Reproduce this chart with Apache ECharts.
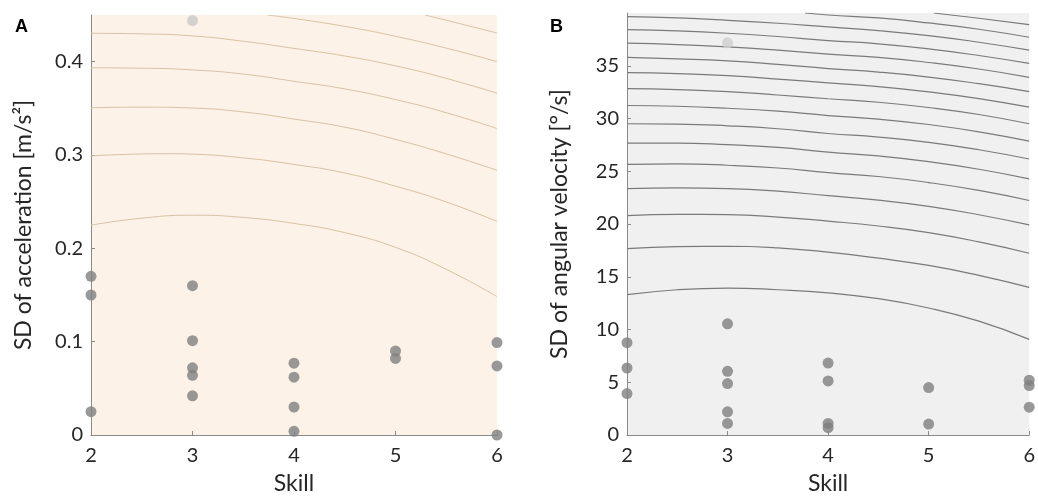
<!DOCTYPE html>
<html>
<head>
<meta charset="utf-8">
<script src="https://cdn.jsdelivr.net/npm/echarts@6/dist/echarts.min.js"></script>
<style>
  html, body { margin: 0; padding: 0; background: #fff; }
</style>
</head>
<body>
<div id="chart" style="width:1038px;height:500px"></div>
<script>
// ticks
const skillTicks = [2, 3, 4, 5, 6]
const accelTicks = [0, 0.1, 0.2, 0.3, 0.4]
const angTicks = [0, 5, 10, 15, 20, 25, 30, 35]

// scatter points [skill, SD]
const accelPoints = [
  [2, 0.170], [2, 0.150], [2, 0.025],
  [3, 0.160], [3, 0.101], [3, 0.072], [3, 0.064], [3, 0.042],
  [4, 0.077], [4, 0.062], [4, 0.030], [4, 0.004],
  [5, 0.090], [5, 0.082],
  [6, 0.099], [6, 0.074], [6, 0.000]
]
const accelOutlier = [[3, 0.444]]

const angPoints = [
  [2, 8.75], [2, 6.35], [2, 3.93],
  [3, 10.54], [3, 6.04], [3, 4.88], [3, 2.20], [3, 1.10],
  [4, 6.82], [4, 5.12], [4, 1.10], [4, 0.69],
  [5, 4.50], [5, 1.04],
  [6, 5.19], [6, 4.69], [6, 2.64]
]
const angOutlier = [[3, 37.17]]

// contour lines (acceleration panel), [skill, SD]
const accelContours = [
  [[2, 0.2249], [2.5, 0.2323], [3, 0.2355], [3.5, 0.2331], [4, 0.2267], [4.5, 0.2168], [5, 0.2010], [5.5, 0.1775], [6, 0.1483]],
  [[2, 0.2991], [2.5, 0.3011], [2.75, 0.3014], [3, 0.3009], [3.5, 0.2969], [4, 0.2899], [4.5, 0.2807], [5, 0.2666], [5.5, 0.2497], [6, 0.2288]],
  [[2, 0.3506], [2.5, 0.3513], [3, 0.3503], [3.5, 0.3461], [4, 0.3385], [4.5, 0.3298], [5, 0.3167], [5.5, 0.3012], [6, 0.2836]],
  [[2, 0.3934], [2.5, 0.3930], [3, 0.3912], [3.5, 0.3867], [4, 0.3790], [4.5, 0.3708], [5, 0.3594], [5.5, 0.3453], [6, 0.3284]],
  [[2, 0.4304], [2.5, 0.4298], [3, 0.4276], [3.5, 0.4219], [4, 0.4142], [4.5, 0.4061], [5, 0.3955], [5.5, 0.3821], [6, 0.3662]],
  [[3.74, 0.45], [4, 0.4463], [4.5, 0.4378], [5, 0.4272], [5.5, 0.4145], [6, 0.4001]],
  [[5.29, 0.45], [5.5, 0.4444], [6, 0.4307]]
]

// contour lines (angular velocity panel), read at these skill values
const contourSkill = [2, 2.5, 3, 3.5, 4, 4.5, 5, 5.5, 6]
const angContours = [
  [13.30, 13.77, 13.93, 13.77, 13.47, 12.92, 12.04, 10.79, 9.06],
  [17.67, 17.86, 17.89, 17.74, 17.33, 16.76, 16.07, 15.13, 13.99],
  [20.79, 20.91, 20.88, 20.66, 20.27, 19.81, 19.18, 18.30, 17.23],
  [23.36, 23.43, 23.36, 23.11, 22.69, 22.26, 21.67, 20.88, 19.91],
  [25.66, 25.69, 25.57, 25.31, 24.87, 24.50, 23.93, 23.18, 22.23],
  [27.67, 27.67, 27.52, 27.26, 26.82, 26.45, 25.91, 25.19, 24.28],
  [29.50, 29.47, 29.31, 29.03, 28.58, 28.24, 27.74, 27.04, 26.16],
  [31.23, 31.16, 30.97, 30.69, 30.28, 29.94, 29.43, 28.74, 27.86],
  [32.83, 32.74, 32.55, 32.23, 31.87, 31.54, 31.04, 30.38, 29.50],
  [34.34, 34.25, 34.06, 33.74, 33.37, 33.02, 32.52, 31.89, 31.07],
  [35.79, 35.66, 35.47, 35.13, 34.73, 34.40, 33.93, 33.30, 32.55],
  [37.14, 37.01, 36.79, 36.48, 36.10, 35.79, 35.31, 34.69, 33.90],
  [38.43, 38.30, 38.08, 37.77, 37.39, 37.08, 36.60, 35.97, 35.22],
  [39.65, 39.53, 39.31, 39.03, 38.68, 38.33, 37.86, 37.23, 36.48]
]
// contours entering from the top edge
const angContoursTop = [
  [[3.77, 40], [4, 39.81], [4.5, 39.53], [5, 39.06], [5.5, 38.46], [6, 37.70]],
  [[5.05, 40], [5.5, 39.50], [6, 38.90]]
]

const FONT = 'Lato'
const axisGray = '#8a8a8a'
const textColor = '#262626'

function xAxisOf(gridIndex) {
  return {
    type: 'value', gridIndex, min: 2, max: 6, interval: 1,
    name: 'Skill', nameLocation: 'middle', nameGap: 37,
    nameTextStyle: { fontFamily: FONT, fontSize: 23, color: textColor },
    axisLine: { show: true, onZero: false, lineStyle: { color: axisGray, width: 1 } },
    axisTick: { show: true, inside: true, length: 4, customValues: skillTicks, lineStyle: { color: axisGray } },
    axisLabel: { fontFamily: FONT, fontSize: 20, color: textColor, margin: 11, customValues: skillTicks },
    splitLine: { show: false }
  }
}

function yAxisOf(gridIndex, max, ticks, title, gap) {
  return {
    type: 'value', gridIndex, min: 0, max,
    name: title, nameLocation: 'middle', nameGap: gap,
    nameTextStyle: { fontFamily: FONT, fontSize: 23, color: textColor },
    axisLine: { show: true, onZero: false, lineStyle: { color: axisGray, width: 1 } },
    axisTick: { show: true, inside: true, length: 4, customValues: ticks, lineStyle: { color: axisGray } },
    axisLabel: { fontFamily: FONT, fontSize: 20, color: textColor, margin: 8, customValues: ticks },
    splitLine: { show: false }
  }
}

function contourSeries(list, idx, color, width) {
  return list.map(pts => ({
    type: 'line', xAxisIndex: idx, yAxisIndex: idx,
    data: pts, smooth: true, symbol: 'none', silent: true,
    lineStyle: { color, width }, z: 2
  }))
}

const angLines = angContours.map(ys => ys.map((y, i) => [contourSkill[i], y])).concat(angContoursTop)

const myChart = echarts.init(document.getElementById('chart'))
const option = {
  animation: false,
  title: [
    { text: 'A', left: 15, top: 18, padding: 0, textStyle: { fontFamily: 'Liberation Sans', fontSize: 18, fontWeight: 'bold', color: '#000' } },
    { text: 'B', left: 550, top: 18, padding: 0, textStyle: { fontFamily: 'Liberation Sans', fontSize: 18, fontWeight: 'bold', color: '#000' } }
  ],
  grid: [
    { left: 91, top: 15, width: 406, height: 425, show: true, backgroundColor: '#fcf2e8', borderWidth: 0 },
    { left: 627, top: 13, width: 405, height: 424, show: true, backgroundColor: '#f0f0f0', borderWidth: 0 }
  ],
  xAxis: [xAxisOf(0), xAxisOf(1)],
  yAxis: [
    yAxisOf(0, 0.45, accelTicks, 'SD of acceleration [m/s²]', 56),
    yAxisOf(1, 40, angTicks, 'SD of angular velocity [°/s]', 56)
  ],
  series: [
    ...contourSeries(accelContours, 0, '#d8c1a3', 1),
    ...contourSeries(angLines, 1, '#7a7a7a', 1.2),
    { type: 'scatter', xAxisIndex: 0, yAxisIndex: 0, data: accelPoints, symbolSize: 11, clip: false, itemStyle: { color: '#808080' }, z: 5 },
    { type: 'scatter', xAxisIndex: 0, yAxisIndex: 0, data: accelOutlier, symbolSize: 11, clip: false, itemStyle: { color: '#c8c8c8' }, z: 5 },
    { type: 'scatter', xAxisIndex: 1, yAxisIndex: 1, data: angPoints, symbolSize: 11, clip: false, itemStyle: { color: '#808080' }, z: 5 },
    { type: 'scatter', xAxisIndex: 1, yAxisIndex: 1, data: angOutlier, symbolSize: 11, clip: false, itemStyle: { color: '#d0d0d0' }, z: 5 }
  ]
}

option && myChart.setOption(option)
</script>
</body>
</html>
